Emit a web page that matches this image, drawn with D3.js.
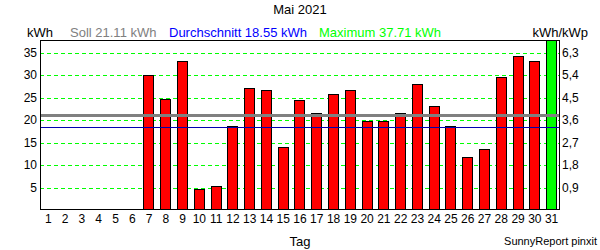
<!DOCTYPE html>
<html>
<head>
<meta charset="utf-8">
<script src="https://cdn.jsdelivr.net/npm/d3@7"></script>
<style>
  html, body { margin:0; padding:0; background:#fff; }
  svg text { font-family: "Liberation Sans", Arial, sans-serif; }
</style>
</head>
<body>
<div id="chart"></div>
<script>
// daily yield May 2021 (kWh), days 1-6 had no data
const days = d3.range(1, 32);
const yields = [0,0,0,0,0,0,30.1,24.7,33.2,4.6,5.4,18.6,27.1,26.7,13.9,24.4,21.6,25.8,26.7,19.8,19.8,21.6,28.1,23.1,18.6,11.7,13.5,29.6,34.3,33.2,37.71];
const leftTicks = [5,10,15,20,25,30,35];
const rightTicks = [0.9,1.8,2.7,3.6,4.5,5.4,6.3];
const soll = 21.11, avg = 18.55, maxVal = 37.71;
const kwp = 35 / 6.3;

(function(){
  const width = 600, height = 250;
  const m = { top: 40, right: 41, bottom: 40.5, left: 40 };

  const svg = d3.select('#chart').append('svg')
    .attr('width', width).attr('height', height);

  const x = d3.scaleBand()
    .domain(days)
    .range([m.left, width - m.right + 1])
    .paddingInner(0.34)
    .paddingOuter(0.17);
  const y = d3.scaleLinear()
    .domain([0, 37.78])
    .range([210, 40]);
  const y2 = d3.scaleLinear()
    .domain([0, 37.78 / kwp])
    .range([210, 40]);

  // grid
  svg.append('g')
    .selectAll('line')
    .data(leftTicks)
    .enter().append('line')
    .attr('x1', m.left).attr('x2', width - m.right)
    .attr('y1', d => Math.round(y(d)) + 0.5).attr('y2', d => Math.round(y(d)) + 0.5)
    .attr('stroke', '#00ff00')
    .attr('stroke-dasharray', '4,3');

  // bars
  svg.append('g')
    .selectAll('rect')
    .data(days.map((d,i) => ({ day: d, v: yields[i] })).filter(d => d.v > 0))
    .enter().append('rect')
    .attr('x', d => Math.round(x(d.day)) + 0.5)
    .attr('y', d => Math.round(y(d.v)) + 0.5)
    .attr('width', Math.round(x.bandwidth()) - 1)
    .attr('height', d => Math.round(y(0)) - Math.round(y(d.v)) - 1)
    .attr('fill', d => d.v === maxVal ? '#00ff00' : '#ff0000')
    .attr('stroke', '#000')
    .attr('stroke-width', 1);

  // soll + average lines
  svg.append('line')
    .attr('x1', m.left).attr('x2', width - m.right + 1)
    .attr('y1', Math.round(y(soll)) + 0.5).attr('y2', Math.round(y(soll)) + 0.5)
    .attr('stroke', '#808080').attr('stroke-width', 3);
  svg.append('line')
    .attr('x1', m.left).attr('x2', width - m.right + 1)
    .attr('y1', Math.round(y(avg)) + 0.5).attr('y2', Math.round(y(avg)) + 0.5)
    .attr('stroke', '#0000b0').attr('stroke-width', 1);

  // frame
  svg.append('rect')
    .attr('x', m.left + 0.5).attr('y', m.top + 0.5)
    .attr('width', width - m.left - m.right)
    .attr('height', 209 - m.top)
    .attr('fill', 'none').attr('stroke', '#000');

  const styleAxis = g => {
    g.select('.domain').remove();
    g.selectAll('text').attr('fill', '#000').style('font-size', '12px');
  };

  svg.append('g')
    .attr('transform', `translate(${m.left - 3},0)`)
    .call(d3.axisLeft(y).tickValues(leftTicks).tickSize(0).tickPadding(0))
    .call(styleAxis);

  svg.append('g')
    .attr('transform', `translate(${width - m.right + 3},0)`)
    .call(d3.axisRight(y2).tickValues(rightTicks).tickSize(0).tickPadding(0)
      .tickFormat(d => d3.format('.1f')(d).replace('.', ',')))
    .call(styleAxis);

  svg.append('g')
    .attr('transform', `translate(0,214)`)
    .call(d3.axisBottom(x).tickSize(0).tickPadding(0))
    .call(styleAxis);

  // texts
  const txt = (s, xp, yp, opts = {}) => svg.append('text')
    .attr('x', xp).attr('y', yp)
    .attr('text-anchor', opts.anchor || 'start')
    .attr('fill', opts.color || '#000')
    .style('font-size', (opts.size || 13) + 'px')
    .text(s);

  txt('Mai 2021', 300, 14, { anchor: 'middle' });
  txt('kWh', 27, 37);
  txt(`Soll ${soll} kWh`, 70, 37, { color: '#808080' });
  txt(`Durchschnitt ${avg} kWh`, 169, 37, { color: '#0000ff' });
  txt(`Maximum ${maxVal} kWh`, 319, 37, { color: '#00ff00' });
  txt('kWh/kWp', 588, 37, { anchor: 'end' });
  txt('Tag', 300, 246, { anchor: 'middle' });
  txt('SunnyReport pinxit', 597, 245, { anchor: 'end', size: 11 });
})();
</script>
</body>
</html>
